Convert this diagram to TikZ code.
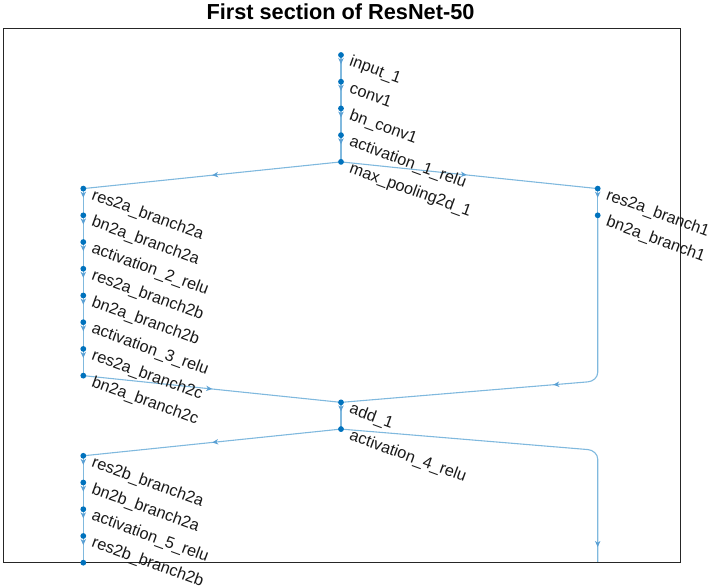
\documentclass[tikz,border=0pt]{standalone}
\usepackage{fontspec}
\setmainfont{Liberation Sans}
\usetikzlibrary{arrows.meta,decorations.markings}
\pgfdeclarelayer{bg}
\pgfsetlayers{bg,main}
\definecolor{nodeblue}{RGB}{0,114,189}
\definecolor{edgeblue}{RGB}{128,185,222}
\definecolor{arrowblue}{RGB}{90,160,212}
\definecolor{labgray}{RGB}{25,25,25}
\definecolor{axisgray}{RGB}{38,38,38}
\tikzset{
  dot/.style={circle,fill=nodeblue,inner sep=0pt,minimum size=5.8bp},
  lab/.style={anchor=base west,rotate=-20,inner sep=0pt,text=labgray,
    font=\fontsize{16.3}{19}\selectfont},
  edgeline/.style={draw=edgeblue,line width=1.1bp},
  tipat/.style={postaction={decorate},decoration={markings,
    mark=at position #1 with {\arrow{Stealth[length=6bp,width=5.4bp,inset=1.8bp,color=arrowblue]}}}},
  titlestyle/.style={anchor=base,inner sep=0pt,text=black,
    font=\bfseries\fontsize{21.8}{24}\selectfont},
  axesbox/.style={draw=axisgray,line width=1bp,inner sep=0pt,anchor=north west,
    minimum width=676.5bp,minimum height=533.8bp},
}
\begin{document}
\begin{tikzpicture}[x=1bp,y=-1bp]
\useasboundingbox (0,0) rectangle (712,588);
\node[titlestyle] (title) at (340.5,20) {First section of ResNet-50};
\node[axesbox] (axes) at (3,28.5) {};

% center column
\node[dot] (in1) at (341,55) {};
\node[dot] (conv1) at (341,81.72) {};
\node[dot] (bnc1) at (341,108.44) {};
\node[dot] (act1) at (341,135.16) {};
\node[dot] (mp1) at (341,161.88) {};
\node[dot] (add1) at (341,402.36) {};
\node[dot] (act4) at (341,429.08) {};
% left column
\node[dot] (r2a2a) at (83.3,188.6) {};
\node[dot] (b2a2a) at (83.3,215.32) {};
\node[dot] (act2) at (83.3,242.04) {};
\node[dot] (r2a2b) at (83.3,268.76) {};
\node[dot] (b2a2b) at (83.3,295.48) {};
\node[dot] (act3) at (83.3,322.2) {};
\node[dot] (r2a2c) at (83.3,348.92) {};
\node[dot] (b2a2c) at (83.3,375.64) {};
\node[dot] (r2b2a) at (83.3,455.8) {};
\node[dot] (b2b2a) at (83.3,482.52) {};
\node[dot] (act5) at (83.3,509.24) {};
\node[dot] (r2b2b) at (83.3,535.96) {};
\node[dot] (b2b2b) at (83.3,562.68) {};
% right column
\node[dot] (r2a1) at (597.7,188.6) {};
\node[dot] (b2a1) at (597.7,215.32) {};
\coordinate (offA) at (597.7,620);

% labels
\foreach \n/\t in {in1/input\_1, conv1/conv1, bnc1/bn\_conv1, act1/activation\_1\_relu,
  mp1/max\_pooling2d\_1, add1/add\_1, act4/activation\_4\_relu,
  r2a2a/res2a\_branch2a, b2a2a/bn2a\_branch2a, act2/activation\_2\_relu,
  r2a2b/res2a\_branch2b, b2a2b/bn2a\_branch2b, act3/activation\_3\_relu,
  r2a2c/res2a\_branch2c, b2a2c/bn2a\_branch2c, r2b2a/res2b\_branch2a,
  b2b2a/bn2b\_branch2a, act5/activation\_5\_relu, r2b2b/res2b\_branch2b,
  r2a1/res2a\_branch1, b2a1/bn2a\_branch1}
  \node[lab] (L\n) at ([shift={(7.5,10.5)}]\n.center) {\t};

\begin{pgfonlayer}{bg}
\begin{scope}
\clip (3,28.5) rectangle (679.5,562.3);
\foreach \a/\b in {in1/conv1, conv1/bnc1, bnc1/act1, act1/mp1,
  r2a2a/b2a2a, b2a2a/act2, act2/r2a2b, r2a2b/b2a2b, b2a2b/act3, act3/r2a2c, r2a2c/b2a2c,
  add1/act4, r2b2a/b2b2a, b2b2a/act5, act5/r2b2b, r2b2b/b2b2b, r2a1/b2a1}
  \draw[edgeline,tipat=0.34] (\a.center) -- (\b.center);
\draw[edgeline,tipat=0.5] (mp1.center) -- (r2a2a.center);
\draw[edgeline,tipat=0.49] (mp1.center) -- (r2a1.center);
\draw[edgeline,tipat=0.5] (b2a2c.center) -- (add1.center);
\draw[edgeline,tipat=0.5] (act4.center) -- (r2b2a.center);
\draw[edgeline,tipat=-213bp] (b2a1.center) -- (597.7,372.5)
  .. controls (597.7,377.5) and (593,381.45) .. (588,381.86) -- (add1.center);
\draw[edgeline,tipat=-73bp] (act4.center) -- (588,449.58)
  .. controls (593,450) and (597.7,454) .. (597.7,459) -- (offA);
\end{scope}
\end{pgfonlayer}
\end{tikzpicture}
\end{document}
